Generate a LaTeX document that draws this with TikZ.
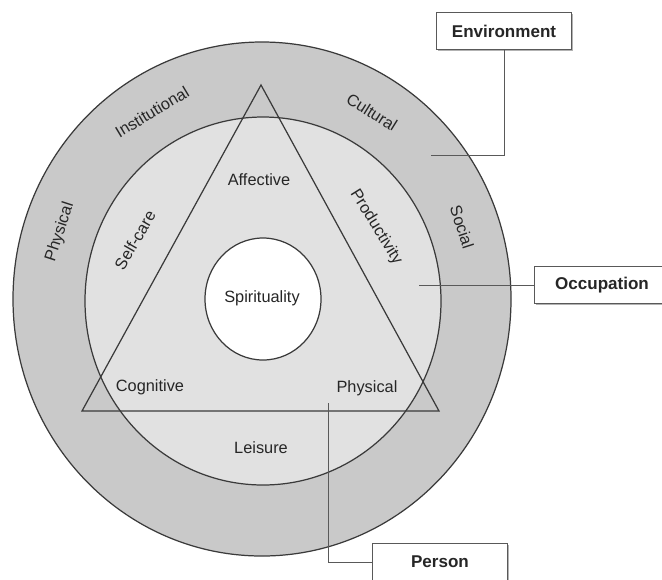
\documentclass[tikz,border=0pt]{standalone}
\usepackage{fontspec}
\setmainfont{Liberation Sans}
\usetikzlibrary{positioning,shadows}
\definecolor{ringc}{HTML}{C9C9C9}
\definecolor{midc}{HTML}{E1E1E1}
\definecolor{linec}{HTML}{3A3A3A}
\tikzset{
  ln/.style={linec,line width=0.7pt},
  cn/.style={gray!70!black,line width=0.5pt},
  lbl/.style={font=\fontsize{9.3}{11}\selectfont,text=black!85,inner sep=1pt},
  box/.style={draw=gray!70!black,fill=white,line width=0.5pt,minimum width=2.7cm,minimum height=0.74cm,
    font=\bfseries\fontsize{9.7}{11}\selectfont,text=black!85,
    drop shadow={shadow xshift=0.7pt,shadow yshift=-0.9pt,fill=black!60}}
}
\begin{document}
\begin{tikzpicture}[x=0.02cm,y=-0.02cm]
\useasboundingbox (0,0) rectangle (662,579);
% rings
\fill[ringc] (262,299) ellipse [x radius=249,y radius=257];
\fill[midc] (263,301) ellipse [x radius=178,y radius=184];
\fill[white] (263,299) ellipse [x radius=58,y radius=61];
\draw[ln] (262,299) ellipse [x radius=249,y radius=257];
\draw[ln] (263,301) ellipse [x radius=178,y radius=184];
\draw[ln] (263,299) ellipse [x radius=58,y radius=61];
\draw[ln] (82,411) -- (439,411) -- (261,85) -- cycle;
% person
\node[lbl] (spir) at (262,298) {Spirituality};
\node[lbl] (aff) at (259,180) {Affective};
\node[lbl] (cog) at (150,387) {Cognitive};
\node[lbl] (phy) at (367,388) {Physical};
% occupation
\node[lbl] (leis) at (261,448) {Leisure};
\node[lbl,rotate=60] (self) at (135,240) {Self-care};
\node[lbl,rotate=-58] (prod) at (376,227) {Productivity};
% environment
\node[lbl,rotate=31] (inst) at (152,112) {Institutional};
\node[lbl,rotate=72] (phys) at (60,232) {Physical};
\node[lbl,rotate=-32] (cult) at (372,112) {Cultural};
\node[lbl,rotate=-72] (soc) at (462,227) {Social};
% legend boxes
\node[box] (env) at (504,31) {Environment};
\node[box] (occ) at (602,285) {Occupation};
\node[box] (per) at (440,562) {Person};
\coordinate (envp) at (431,155);
\coordinate (occp) at (419,285);
\coordinate (perp) at (328,403);
\draw[cn] (env.south) |- (envp);
\draw[cn] (occ.west) -- (occp);
\draw[cn] (perp) |- (per.west);
\end{tikzpicture}
\end{document}
